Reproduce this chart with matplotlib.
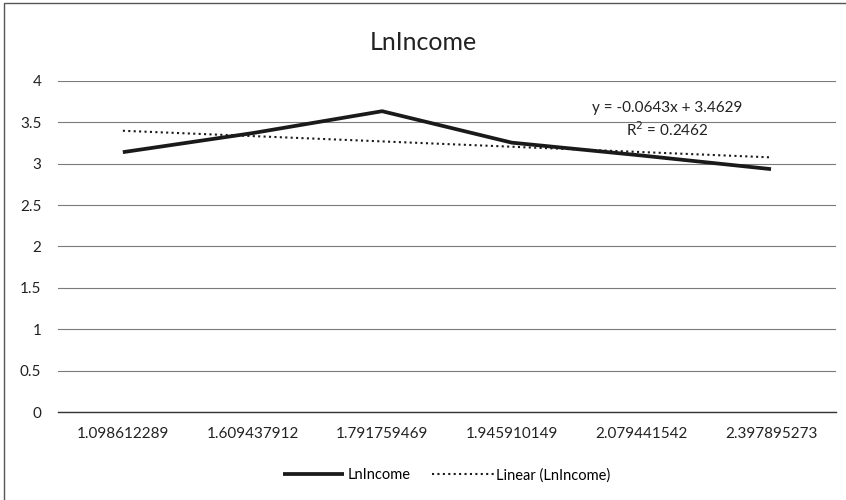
import numpy as np
import matplotlib.pyplot as plt
from matplotlib.patches import Rectangle

plt.rcParams['font.family'] = ['Liberation Sans Narrow', 'Lato', 'DejaVu Sans']

categories = ['1.098612289', '1.609437912', '1.791759469',
              '1.945910149', '2.079441542', '2.397895273']
ln_income = [3.14, 3.37, 3.635, 3.255, 3.10, 2.935]

# Excel trendline as printed on the chart
slope = -0.0643
intercept = 3.4629
r_squared = 0.2462

x = np.arange(1, len(categories) + 1)
trend = slope * x + intercept

fig = plt.figure(figsize=(8.46, 5.0), dpi=100)
ax = fig.add_axes([0.0686, 0.176, 0.9194, 0.662])

ax.plot(x, ln_income, color='#1a1a1a', linewidth=2.7, label='LnIncome',
        solid_capstyle='butt', zorder=3)
ax.plot(x, trend, color='#1a1a1a', linewidth=1.5, linestyle=(0, (1, 1.6)),
        label='Linear (LnIncome)', zorder=2)

ax.set_xlim(0.5, len(categories) + 0.5)
ax.set_ylim(0, 4)
ax.set_yticks(np.arange(0, 4.01, 0.5))
ax.set_yticklabels(['0', '0.5', '1', '1.5', '2', '2.5', '3', '3.5', '4'])
ax.set_xticks(x)
ax.set_xticklabels(categories)
ax.tick_params(axis='both', length=0, labelsize=11, colors='#222222')
ax.tick_params(axis='x', pad=11)
ax.tick_params(axis='y', pad=12)

ax.grid(axis='y', color='#7a7a7a', linewidth=0.8)
ax.set_axisbelow(True)
for side in ['top', 'right', 'left']:
    ax.spines[side].set_visible(False)
ax.spines['bottom'].set_color('#333333')
ax.spines['bottom'].set_linewidth(1.0)

ax.text(5.2, 3.53, f'y = {slope}x + {intercept}\nR$^2$ = {r_squared}',
        ha='center', va='center', fontsize=11, color='#222222',
        linespacing=1.35)

fig.text(0.5, 0.916, 'LnIncome', ha='center', va='center',
         fontsize=18, color='#222222')

ax.legend(loc='upper center', bbox_to_anchor=(0.5, -0.13), ncol=2,
          frameon=False, fontsize=10.5, handlelength=4.2, columnspacing=1.5,
          handletextpad=0.2)

fig.patches.append(Rectangle((0.005, -0.05), 1.1, 1.044,
                             transform=fig.transFigure, fill=False,
                             edgecolor='#555555', linewidth=1.0))

fig.savefig('out.png', dpi=100)
